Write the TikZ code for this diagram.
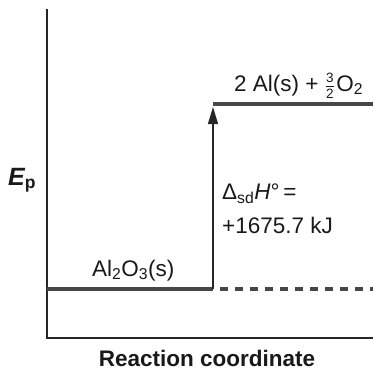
\documentclass[tikz,border=0pt]{standalone}
\usepackage{fontspec}
\setmainfont{Liberation Sans}
\usetikzlibrary{arrows.meta}
\begin{document}
\begin{tikzpicture}[
    x=1pt, y=-1pt,
    font=\fontsize{22.5}{26}\selectfont,
    eje/.style={line width=1.8pt, black!85},
    nivel/.style={line width=4pt, black!72},
    nivelpunteado/.style={nivel, dash pattern=on 8pt off 7pt},
    flecha/.style={line width=1.2pt, black!85, shorten >=3pt,
      -{Triangle[length=17pt, width=10pt]}},
    rotulo/.style={anchor=base west, inner sep=0pt, black!90}
  ]
  \useasboundingbox (0,0) rectangle (373,378);

  % --- ejes ---
  \coordinate (cima)   at (47,9);
  \coordinate (origen) at (47,338);
  \coordinate (fin)    at (373,338);
  \draw[eje] (cima) -- (origen) -- (fin);

  % --- niveles de energía ---
  \coordinate (bajoIzq) at (47,289);
  \coordinate (bajoMed) at (213,289);
  \coordinate (bajoGap) at (220,289);
  \coordinate (bajoDer) at (373,289);
  \coordinate (altoIzq) at (213,104);
  \coordinate (altoDer) at (373,104);
  \draw[nivel] (bajoIzq) -- (bajoMed);
  \draw[nivelpunteado] (bajoGap) -- (bajoDer);
  \draw[nivel] (altoIzq) -- (altoDer);

  % --- flecha de la entalpía ---
  \draw[flecha] (bajoMed) -- (altoIzq);

  % --- rótulos ---
  \node[rotulo] (productos) at (234,91)
    {2 Al(s) + $\frac{\mbox{\fontsize{13.5}{13.5}\selectfont 3}}{\mbox{\fontsize{13.5}{13.5}\selectfont 2}}$\kern1.5pt O\textsubscript{2}};
  \node[rotulo] (reactivo) at (92,276) {Al\textsubscript{2}O\textsubscript{3}(s)};
  \node[rotulo] (entalpia) at (222,199) {Δ\textsubscript{sd}\textit{H}°\,=};
  \node[rotulo] (valor) at (222,233) {+1675.7 kJ};
  \node[rotulo, font=\fontsize{25}{28}\selectfont\bfseries\itshape] (energia) at (8,185)
    {E\textsubscript{\upshape p}};
  \node[anchor=base, inner sep=0pt, black!90, font=\fontsize{22.5}{26}\selectfont\bfseries]
    (abscisa) at (207,366) {Reaction coordinate};
\end{tikzpicture}
\end{document}
